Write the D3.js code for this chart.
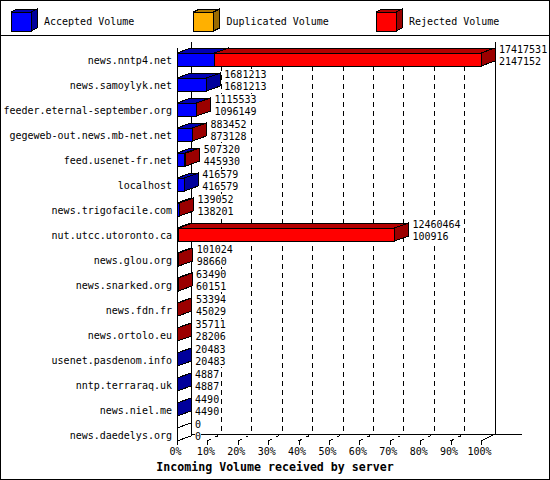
<!DOCTYPE html>
<html>
<head>
<meta charset="utf-8">
<script src="https://cdn.jsdelivr.net/npm/d3@7"></script>
<style>
  body { margin: 0; background: #fff; }
  text { font-family: "DejaVu Sans Mono", "Liberation Mono", monospace; font-size: 10px; fill: #000; }
</style>
</head>
<body>
<div id="chart"></div>
<script>
var servers = ["news.nntp4.net", "news.samoylyk.net", "feeder.eternal-september.org",
  "gegeweb-out.news.mb-net.net", "feed.usenet-fr.net", "localhost", "news.trigofacile.com",
  "nut.utcc.utoronto.ca", "news.glou.org", "news.snarked.org", "news.fdn.fr", "news.ortolo.eu",
  "usenet.pasdenom.info", "nntp.terraraq.uk", "news.niel.me", "news.daedelys.org"];
var totalVolume = [17417531, 1681213, 1115533, 883452, 507320, 416579, 139052,
  12460464, 101024, 63490, 53394, 35711, 20483, 4887, 4490, 0];
var acceptedVolume = [2147152, 1681213, 1096149, 873128, 445930, 416579, 138201,
  100916, 98660, 60151, 45029, 28206, 20483, 4887, 4490, 0];
var duplicatedVolume = [0, 0, 0, 0, 0, 0, 0, 0, 0, 0, 0, 0, 0, 0, 0, 0];
var rejectedVolume = [15270379, 0, 19384, 10324, 61390, 0, 851,
  12359548, 2364, 3339, 8365, 7505, 0, 0, 0, 0];
var seriesNames = ["Accepted Volume", "Duplicated Volume", "Rejected Volume"];
var seriesColors = ["#0000ff", "#ffb000", "#ff0000"];
var percentTicks = [0, 10, 20, 30, 40, 50, 60, 70, 80, 90, 100];

var W = 550, H = 480,
  left = 177, right = 481,
  dx = 14, dy = -5,     // bar depth
  floorY = 441, floorDy = -7;

var keys = ["accepted", "duplicated", "rejected"];
var table = servers.map(function(s, i) {
  return { name: s, total: totalVolume[i], accepted: acceptedVolume[i],
    duplicated: duplicatedVolume[i], rejected: rejectedVolume[i] };
});
var stacked = d3.stack().keys(keys)(table);

var x = d3.scaleLinear().domain([0, d3.max(totalVolume)]).range([left, right]);
var xp = d3.scaleLinear().domain([0, 100]).range([left, right]);
var y = d3.scaleBand().domain(servers).range([47, 447]).paddingInner(0.48).paddingOuter(0.24);
var color = d3.scaleOrdinal().domain(keys).range(seriesColors);

var svg = d3.select("#chart").append("svg")
  .attr("width", W)
  .attr("height", H)
  .style("display", "block");

svg.append("rect")
  .attr("x", 0.5).attr("y", 0.5)
  .attr("width", W - 1).attr("height", H - 1)
  .attr("fill", "#fff").attr("stroke", "#000");

svg.append("line")
  .attr("x1", 0).attr("x2", W)
  .attr("y1", 35.5).attr("y2", 35.5)
  .attr("stroke", "#000");

// draws a 3d box: front, top, side
function box(g, x0, x1, y0, h, c, ddx, ddy) {
  var front = d3.color(c),
    top = front.darker(1),
    side = front.darker(1.4);
  g.append("path")
    .attr("d", "M" + x0 + "," + y0 + "H" + x1 + "V" + (y0 + h) + "H" + x0 + "Z")
    .attr("fill", front);
  g.append("path")
    .attr("d", "M" + x0 + "," + y0 + "L" + (x0 + ddx) + "," + (y0 + ddy) +
      "L" + (x1 + ddx) + "," + (y0 + ddy) + "L" + x1 + "," + y0 + "Z")
    .attr("fill", top);
  g.append("path")
    .attr("d", "M" + x1 + "," + y0 + "L" + (x1 + ddx) + "," + (y0 + ddy) +
      "L" + (x1 + ddx) + "," + (y0 + h + ddy) + "L" + x1 + "," + (y0 + h) + "Z")
    .attr("fill", side);
}

// walls and grid
var walls = svg.append("g")
  .attr("stroke", "#000")
  .attr("fill", "none")
  .attr("shape-rendering", "crispEdges");

walls.selectAll("line.grid")
  .data(percentTicks.slice(1, -1))
  .enter().append("line")
  .attr("class", "grid")
  .attr("x1", function(d) { return xp(d) + dx; })
  .attr("x2", function(d) { return xp(d) + dx; })
  .attr("y1", 48)
  .attr("y2", floorY + floorDy)
  .attr("stroke-dasharray", "5,4");

walls.append("path")
  .attr("d", "M" + (left + dx) + ",42V" + (floorY + floorDy) + "H522" +
    "M" + (right + dx) + ",42V" + (floorY + floorDy) +
    "M" + left + ",48V" + floorY + "L" + (left + dx) + "," + (floorY + floorDy) +
    "M" + right + "," + floorY + "L" + (right + dx) + "," + (floorY + floorDy));

walls.selectAll("line.tick3d")
  .data(percentTicks.slice(1, -1))
  .enter().append("line")
  .attr("class", "tick3d")
  .attr("x1", function(d) { return xp(d); })
  .attr("y1", floorY)
  .attr("x2", function(d) { return xp(d) + dx; })
  .attr("y2", floorY + floorDy)
  .attr("stroke-dasharray", "4,5,3,20");

var faces = svg.append("g")
  .attr("stroke", "#000")
  .attr("stroke-width", 1)
  .attr("shape-rendering", "crispEdges");

// legend
var legend = svg.append("g");
seriesNames.forEach(function(name, i) {
  var lx = 11 + i * 182.5;
  box(faces, lx, lx + 20, 12, 19, seriesColors[i], 6, -3);
  legend.append("text")
    .attr("x", lx + 33)
    .attr("y", 21)
    .attr("dy", ".35em")
    .text(name);
});

// bars
var bars = svg.append("g")
  .attr("stroke", "#000")
  .attr("shape-rendering", "crispEdges");

table.forEach(function(d, i) {
  var g = bars.append("g");
  var top = y(d.name), h = y.bandwidth();
  if (d.total === 0) {
    g.append("path")
      .attr("d", "M" + left + "," + top + "L" + (left + dx) + "," + (top + dy) +
        "V" + (top + h + dy) + "L" + left + "," + (top + h) + "Z")
      .attr("fill", "#fff");
    return;
  }
  stacked.forEach(function(s) {
    var seg = s[i];
    if (seg[1] - seg[0] <= 0) return;
    box(g, x(seg[0]), x(seg[1]), top, h, color(s.key), dx, dy);
  });
});

// value labels, on a white patch like the original
var values = svg.append("g");
table.forEach(function(d) {
  var tx = x(d.total) + dx + 4, top = y(d.name);
  var g = values.append("g");
  var bg = g.append("rect").attr("fill", "#fff");
  g.append("text")
    .attr("x", tx).attr("y", top - 3.5).attr("dy", ".35em")
    .text(d.total);
  g.append("text")
    .attr("x", tx).attr("y", top + 8.5).attr("dy", ".35em")
    .text(d.accepted);
  var b = g.node().getBBox();
  bg.attr("x", b.x).attr("y", b.y).attr("width", b.width).attr("height", b.height);
});

// server names
var yAxis = svg.append("g")
  .attr("transform", "translate(" + left + ",0.5)")
  .call(d3.axisLeft(y.copy().paddingInner(0).paddingOuter(0).range([47, 447]))
    .tickSize(0).tickPadding(5));
yAxis.select(".domain").remove();
yAxis.selectAll("text")
  .attr("font-family", null).attr("font-size", null)
  .attr("dy", ".35em");

// percent ticks
var xAxis = svg.append("g")
  .attr("transform", "translate(0," + floorY + ")")
  .call(d3.axisBottom(xp).tickValues(percentTicks)
    .tickFormat(function(d) { return d + "%"; })
    .tickSize(4).tickPadding(3));
xAxis.select(".domain").remove();
xAxis.selectAll("line").attr("shape-rendering", "crispEdges");
xAxis.selectAll("text")
  .attr("font-family", null).attr("font-size", null)
  .attr("dx", -2);

svg.append("text")
  .attr("x", 275)
  .attr("y", 467)
  .attr("dy", ".35em")
  .attr("text-anchor", "middle")
  .style("font-weight", "bold")
  .style("font-size", "11.6px")
  .text("Incoming Volume received by server");
</script>
</body>
</html>
